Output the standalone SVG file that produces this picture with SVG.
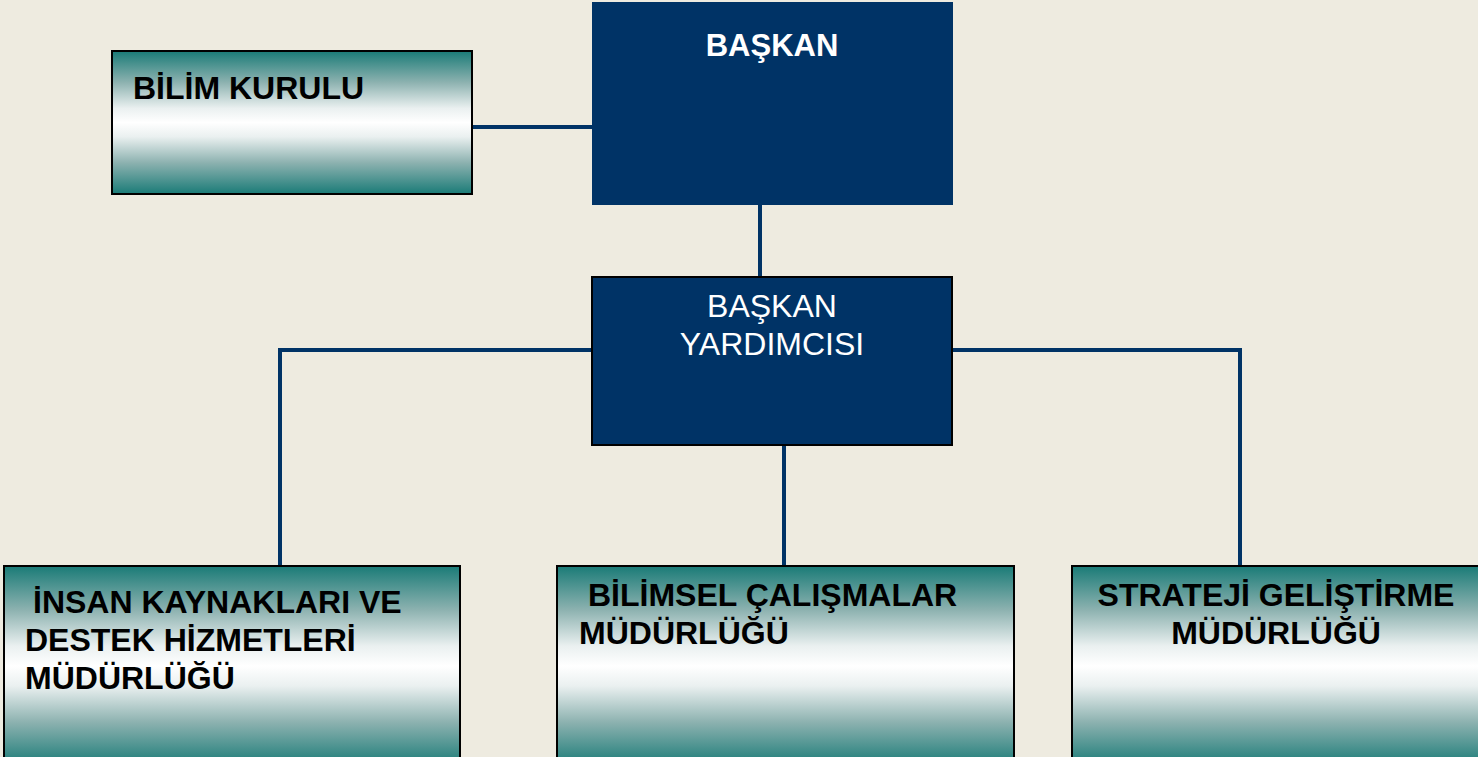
<svg xmlns="http://www.w3.org/2000/svg" width="1478" height="757" viewBox="0 0 1478 757">
<defs>
<linearGradient id="teal" x1="0" y1="0" x2="0" y2="1">
<stop offset="0" stop-color="#1a7b77"/>
<stop offset="0.22" stop-color="#8db2b0"/>
<stop offset="0.4" stop-color="#eaf0f0"/>
<stop offset="0.5" stop-color="#ffffff"/>
<stop offset="0.6" stop-color="#eaf0f0"/>
<stop offset="0.78" stop-color="#8db2b0"/>
<stop offset="1" stop-color="#1a7b77"/>
</linearGradient>
</defs>
<style>
.g{fill:url(#teal);stroke:#000;stroke-width:2}
.navy{fill:#003366}
.navyb{fill:#003366;stroke:#000;stroke-width:2}
.bt{font-family:"Liberation Sans",Arial,sans-serif;font-weight:bold;font-size:32px;fill:#000}
.wt{font-family:"Liberation Sans",Arial,sans-serif;font-size:32px;fill:#fff}
.wb{font-family:"Liberation Sans",Arial,sans-serif;font-weight:bold;font-size:31px;fill:#fff}
.c{fill:none;stroke:#003366;stroke-width:4}
</style>
<rect width="1478" height="757" fill="#eeebe0"/>
<g id="connectors">
<line class="c" x1="472" y1="127" x2="592" y2="127"/>
<line class="c" x1="760" y1="205" x2="760" y2="277"/>
<polyline class="c" points="592,350 280,350 280,565"/>
<polyline class="c" points="952,350 1240,350 1240,565"/>
<line class="c" x1="784" y1="445" x2="784" y2="565"/>
</g>
<g id="bilim-kurulu">
<rect class="g" x="112" y="51" width="360" height="143"/>
<text class="bt" x="133" y="99">BİLİM KURULU</text>
</g>
<g id="baskan">
<rect class="navy" x="592" y="2" width="361" height="203"/>
<text class="wb" x="772" y="56" text-anchor="middle">BAŞKAN</text>
</g>
<g id="baskan-yardimcisi">
<rect class="navyb" x="592" y="277" width="360" height="168"/>
<text class="wt" x="772" y="317" text-anchor="middle">BAŞKAN</text>
<text class="wt" x="772" y="355" text-anchor="middle">YARDIMCISI</text>
</g>
<g id="insan-kaynaklari">
<rect class="g" x="4" y="566" width="456" height="200"/>
<text class="bt" x="33" y="613">İNSAN KAYNAKLARI VE</text>
<text class="bt" x="25" y="651">DESTEK HİZMETLERİ</text>
<text class="bt" x="25" y="689">MÜDÜRLÜĞÜ</text>
</g>
<g id="bilimsel-calismalar">
<rect class="g" x="557" y="566" width="457" height="200"/>
<text class="bt" x="588" y="606">BİLİMSEL ÇALIŞMALAR</text>
<text class="bt" x="579" y="644">MÜDÜRLÜĞÜ</text>
</g>
<g id="strateji-gelistirme">
<rect class="g" x="1072" y="566" width="420" height="200"/>
<text class="bt" x="1276" y="606" text-anchor="middle">STRATEJİ GELİŞTİRME</text>
<text class="bt" x="1276" y="644" text-anchor="middle">MÜDÜRLÜĞÜ</text>
</g>
</svg>
